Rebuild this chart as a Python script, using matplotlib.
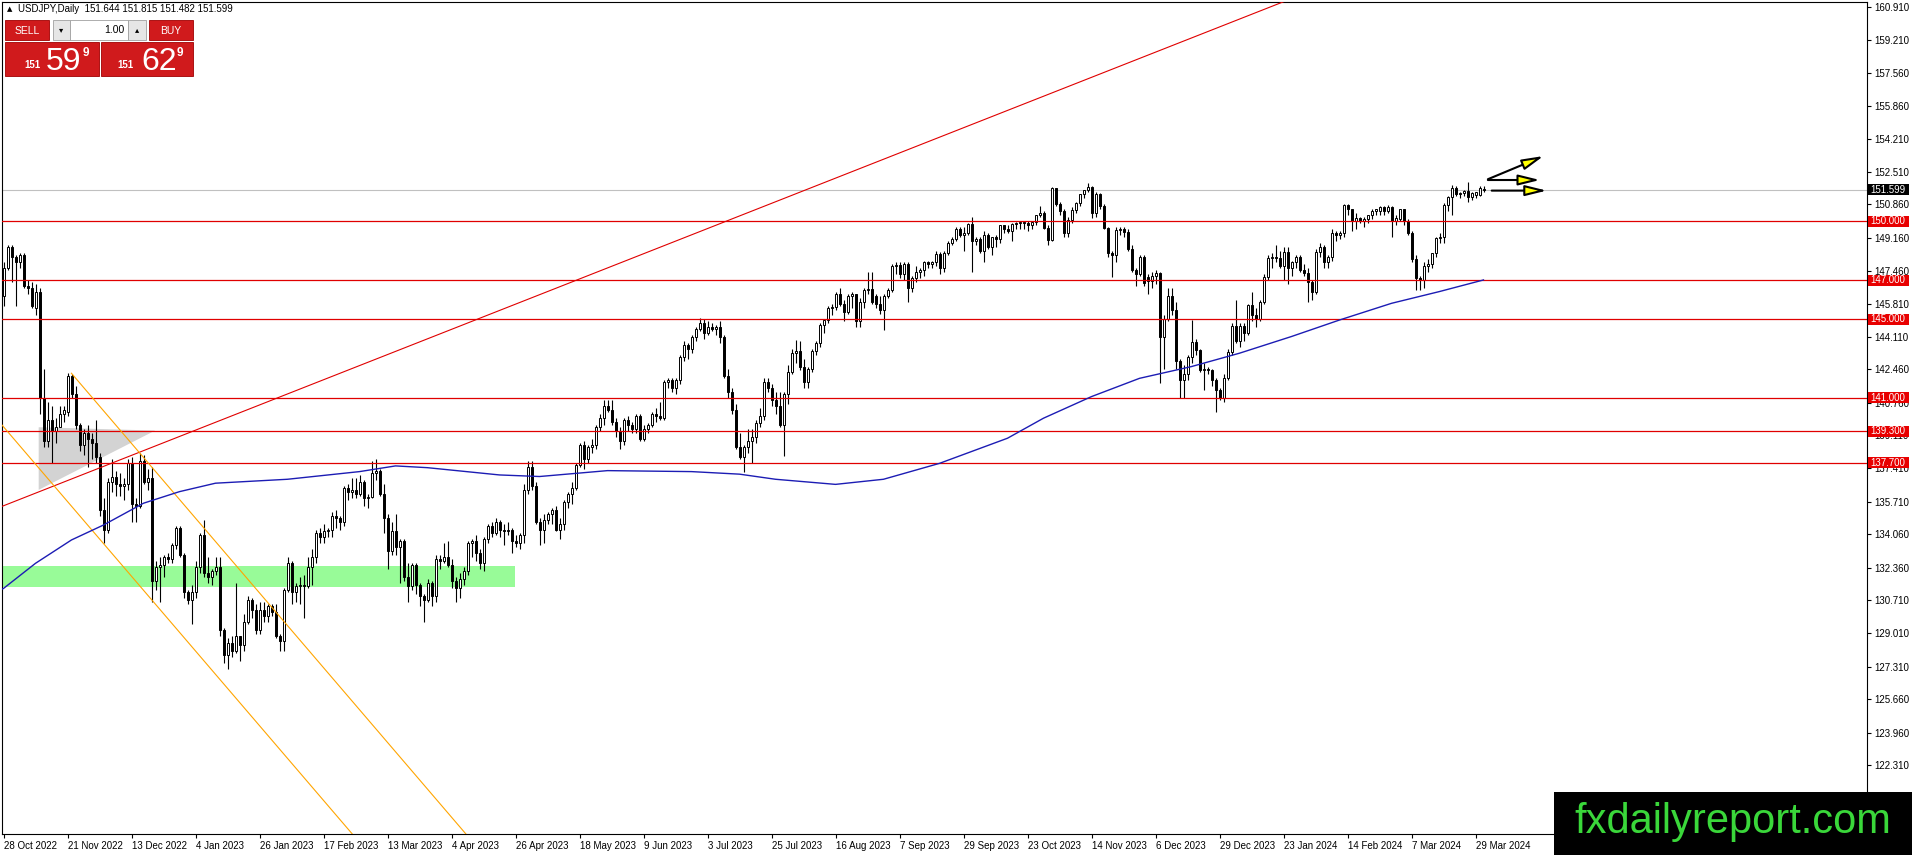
import numpy as np
import matplotlib
matplotlib.use("Agg")
import matplotlib.pyplot as plt
from matplotlib.patches import Rectangle, Polygon

plt.rcParams['font.family'] = ['Liberation Sans', 'DejaVu Sans']

# daily bars, 16 per row (one row per date label), first bar sits left of the first label
first_bar = -1
opens = [146.4,
    146.2,147.6,148.7,148.2,147.9,148.3,146.7,146.6,145.6,146.4,141.0,138.8,139.9,139.3,139.5,140.2,
    140.3,142.1,141.2,139.6,138.6,139.2,138.9,138.7,138.0,135.3,134.3,136.7,137.0,136.6,136.5,136.6,
    137.7,135.6,135.5,137.8,136.7,136.9,131.7,132.4,132.5,132.9,132.8,133.5,134.4,133.0,131.1,130.7,
    131.1,132.4,134.0,132.1,131.9,132.2,132.4,129.2,127.9,128.5,128.1,128.9,128.4,129.6,130.7,130.2,
    129.2,130.2,129.9,130.4,130.1,128.9,128.6,131.2,132.6,131.1,131.4,131.5,131.4,132.4,132.9,134.1,
    133.9,134.2,134.3,135.0,134.9,134.7,136.4,136.2,136.3,136.1,136.7,135.9,135.95,137.2,137.3,136.1,
    134.9,133.2,134.2,133.4,133.7,131.9,131.4,132.5,131.5,130.9,130.7,131.6,130.9,132.8,132.7,132.9,
    132.5,131.7,131.3,131.8,132.2,133.6,133.7,133.1,132.6,133.8,134.5,134.1,134.7,134.3,134.2,134.3,
    133.7,133.6,134.0,136.3,137.5,136.5,134.7,134.3,134.8,135.1,135.3,134.3,134.6,135.7,136.1,136.4,
    137.6,138.6,137.9,138.5,138.6,139.5,140.0,140.6,140.4,139.8,139.3,138.8,139.9,139.6,139.4,140.1,
    138.9,139.4,139.6,140.2,140.1,140.0,141.8,141.9,141.5,141.9,143.1,143.7,143.5,144.1,144.5,144.8,
    144.3,144.6,144.5,144.6,144.1,142.1,141.3,140.4,138.5,138.0,138.5,138.8,139.0,139.7,140.1,141.8,
    141.5,140.9,140.6,139.6,141.2,142.3,143.3,143.4,142.6,141.8,142.5,143.4,143.8,144.7,144.95,145.6,
    145.65,146.3,145.8,145.4,146.2,146.3,144.9,145.9,146.5,146.55,146.2,145.8,145.5,146.2,146.5,147.7,
    147.75,147.3,147.8,146.6,147.1,147.4,147.5,147.9,147.8,147.9,148.35,147.6,148.4,148.9,149.1,149.6,
    149.3,149.4,149.85,149.0,149.1,148.5,149.3,148.7,149.2,149.1,149.8,149.6,149.5,149.85,149.9,149.95,
    149.9,149.8,149.95,150.3,150.4,149.65,149.05,151.68,150.9,150.5,149.4,150.05,150.55,150.95,151.4,151.6,
    151.75,150.4,151.4,150.8,149.65,148.4,148.3,149.55,149.6,149.45,148.6,147.5,147.3,148.2,147.15,146.95,
    147.2,147.35,144.1,145.0,146.2,145.5,142.9,141.9,142.2,143.1,143.87,143.45,142.4,142.5,142.4,141.9,
    141.4,141.0,142.0,143.36,144.64,143.9,144.64,144.3,145.74,145.2,145.0,145.9,147.18,148.11,148.2,148.15,
    147.7,148.45,147.6,147.94,148.2,147.5,147.35,146.9,146.4,148.45,148.7,147.9,148.2,149.4,149.3,149.4,
    150.83,150.6,150.0,150.15,150.0,150.1,150.3,150.5,150.5,150.7,150.5,150.75,150.0,150.1,150.6,150.0,
    149.4,148.1,147.1,147.0,147.7,147.8,148.37,149.13,149.2,150.83,151.25,151.68,151.4,151.45,151.55,151.25,
    151.35,151.35,151.644]
highs = [146.7,
    147.9,148.8,148.8,148.3,148.4,148.4,147.0,146.9,146.8,146.6,142.5,140.8,140.6,140.0,140.6,140.6,
    142.25,142.2,141.6,139.7,139.4,139.6,139.2,139.9,138.2,135.9,136.9,137.9,137.3,137.2,136.9,137.9,
    138.0,135.9,138.2,138.1,137.4,137.5,132.7,132.9,133.0,133.1,133.6,134.5,134.5,133.1,131.2,131.5,
    132.7,134.1,134.8,132.9,132.3,132.9,132.9,129.3,128.8,128.9,131.6,128.9,130.0,130.9,130.8,130.5,
    130.6,130.6,130.5,130.5,130.5,129.0,131.3,132.9,132.7,131.6,131.9,132.0,132.9,133.3,134.3,134.4,
    134.6,134.4,135.2,135.3,135.0,136.5,136.6,136.9,136.9,137.1,136.8,136.1,137.8,137.9,137.4,136.6,
    135.1,134.7,135.1,133.8,133.8,132.6,132.6,132.6,131.6,131.0,131.8,131.7,133.0,133.0,133.6,133.7,
    132.8,131.9,132.1,132.4,133.7,133.8,134.0,133.3,133.9,134.6,134.7,134.9,134.8,134.6,134.7,134.4,
    134.0,134.1,136.6,137.8,137.8,136.7,134.9,135.1,135.2,135.4,135.5,134.9,135.8,136.2,136.7,137.7,
    138.7,138.8,138.6,138.9,139.6,140.2,140.9,140.9,140.9,140.0,139.5,140.0,140.1,139.8,140.2,140.2,
    139.6,139.7,140.3,140.5,140.8,141.9,142.0,142.0,142.0,143.2,143.9,143.8,144.2,144.6,145.07,145.0,
    144.9,144.8,144.7,144.9,144.2,142.5,141.5,140.7,139.2,138.6,139.4,139.4,139.9,140.5,142.0,142.0,
    141.7,141.3,141.3,141.3,142.7,143.5,143.95,143.9,143.0,142.6,143.5,143.9,144.8,145.0,145.7,145.8,
    146.4,146.6,146.0,146.3,146.4,146.3,146.1,146.6,147.4,147.4,146.3,146.2,146.3,146.6,147.8,147.9,
    147.9,147.9,147.9,147.2,147.7,147.6,148.0,148.0,148.0,148.5,148.45,148.5,149.0,149.2,149.7,149.7,
    149.7,149.9,150.2,149.2,149.2,149.5,149.4,149.2,149.3,149.8,149.8,149.8,149.9,149.95,150.0,150.0,
    150.0,150.0,150.3,150.8,150.5,149.8,151.76,151.7,151.0,150.6,150.2,150.7,151.0,151.4,151.6,151.93,
    151.8,151.5,151.45,150.9,149.7,148.5,149.7,149.7,149.7,149.6,148.8,147.6,148.3,148.3,147.3,147.4,
    147.5,147.4,145.2,146.6,146.6,145.9,143.0,142.7,143.2,144.97,144.0,143.5,142.8,142.6,142.5,142.0,
    141.5,142.2,143.5,144.8,146.0,144.8,144.8,145.8,146.4,145.6,146.0,147.3,148.3,148.4,148.8,148.5,
    148.7,148.7,148.0,148.3,148.3,147.8,147.6,147.0,148.6,148.9,148.8,148.3,149.6,149.5,149.5,150.9,
    150.9,150.6,150.4,150.2,150.2,150.3,150.6,150.6,150.8,150.8,150.85,150.8,150.3,150.6,150.6,150.1,
    149.5,148.3,147.2,147.9,148.1,148.4,149.2,149.4,150.95,151.3,151.85,151.8,151.5,151.6,152.0,151.5,
    151.5,151.8,151.815]
lows = [145.1,
    145.7,147.5,146.9,145.7,147.6,146.6,146.3,145.6,145.2,140.2,138.5,138.5,137.7,138.7,139.5,139.8,
    140.1,141.0,139.4,138.3,138.1,137.5,137.9,137.7,135.0,133.6,134.1,136.2,136.0,136.0,135.8,136.3,
    134.7,134.7,135.4,136.6,136.3,130.6,131.2,130.6,131.9,132.6,132.6,133.3,132.9,130.8,130.5,129.5,
    130.8,132.1,131.9,131.6,131.5,132.0,128.9,127.5,127.2,127.8,128.0,127.6,128.1,129.5,129.8,129.0,
    129.0,129.6,129.6,129.9,128.8,128.1,128.1,131.1,130.5,130.6,130.5,129.8,131.3,131.5,132.6,133.6,
    133.6,133.9,133.9,134.4,134.3,134.5,135.8,135.9,135.9,136.0,135.5,135.4,135.9,136.8,136.0,134.1,
    132.3,133.0,133.0,131.6,131.7,130.6,131.2,131.0,130.4,129.6,130.6,130.4,130.6,132.3,132.6,132.4,
    131.3,130.6,130.8,131.5,132.0,132.9,132.7,132.3,132.2,133.6,133.9,134.0,133.9,133.5,134.0,133.1,
    133.4,133.3,133.6,136.1,136.3,134.6,133.5,133.6,134.6,134.6,134.2,133.8,134.3,135.4,135.6,136.3,
    137.5,137.4,137.7,138.2,138.4,139.3,139.6,140.3,139.6,139.0,138.4,138.6,139.3,139.2,139.2,138.8,
    138.8,139.2,139.5,139.8,139.9,139.9,141.5,141.3,141.2,141.7,142.9,143.0,143.3,143.9,144.4,144.0,
    144.2,144.4,144.2,143.8,142.0,141.0,140.2,138.4,137.9,137.25,138.2,137.7,138.7,139.5,139.9,141.3,
    140.6,140.2,139.5,138.05,140.7,142.2,142.8,142.4,141.5,141.5,142.3,143.2,143.6,144.3,144.8,145.2,
    145.5,145.7,144.9,145.3,145.6,144.6,144.6,145.6,146.3,145.8,145.6,145.3,144.45,146.1,146.4,147.3,
    147.1,147.0,145.9,146.4,146.9,147.1,147.2,147.6,147.6,147.7,147.3,147.4,148.3,148.8,149.0,149.2,
    148.5,149.3,147.4,148.8,148.4,147.9,148.6,148.3,148.7,148.9,149.4,149.4,149.0,149.6,149.6,149.6,
    149.5,149.6,149.8,150.2,149.6,148.8,149.0,150.8,150.3,149.2,149.2,149.9,150.4,150.8,151.2,151.5,
    150.15,150.2,150.6,149.6,148.2,147.15,147.9,149.3,149.2,148.5,147.4,146.7,147.2,146.7,146.3,146.6,
    146.8,141.75,142.5,144.9,145.2,142.5,140.98,141.0,141.9,142.8,143.2,142.3,141.4,142.2,141.6,140.3,
    140.9,140.8,141.9,143.2,143.8,143.6,143.9,144.2,144.9,144.6,144.9,145.8,147.0,147.6,147.9,147.6,
    147.0,146.8,147.2,147.6,147.4,147.2,145.9,146.0,146.3,148.2,147.6,147.6,148.0,149.0,149.1,149.2,
    150.3,149.5,149.6,149.9,149.7,149.9,150.1,150.3,150.3,150.3,150.4,149.2,149.8,150.0,149.8,149.3,
    147.9,146.5,146.5,146.6,147.4,147.6,148.2,148.9,148.9,150.5,150.3,151.3,151.2,151.3,151.0,151.1,
    151.2,151.3,151.482]
closes = [146.2,
    147.6,148.7,148.2,147.9,148.3,146.7,146.6,145.7,146.4,141.0,138.8,139.9,139.3,139.5,140.2,140.4,
    142.1,141.2,139.6,138.6,139.2,138.9,138.7,138.0,135.3,134.3,136.7,137.0,136.6,136.5,136.6,137.7,
    135.6,135.5,137.8,136.7,136.9,131.7,132.4,132.5,132.9,132.8,133.5,134.4,133.0,131.1,130.7,131.1,
    132.4,134.0,132.1,131.9,132.2,132.4,129.2,127.9,128.5,128.1,128.9,128.4,129.6,130.7,130.2,129.2,
    130.2,129.9,130.4,130.1,128.9,128.6,131.2,132.6,131.1,131.4,131.5,131.4,132.4,132.9,134.1,133.9,
    134.2,134.3,135.0,134.9,134.7,136.4,136.2,136.3,136.1,136.7,135.9,135.95,137.2,137.3,136.1,134.9,
    133.2,134.2,133.4,133.7,131.9,131.4,132.5,131.5,130.9,130.7,131.6,130.9,132.8,132.7,132.9,132.5,
    131.7,131.3,131.8,132.2,133.6,133.7,133.1,132.6,133.8,134.5,134.1,134.7,134.3,134.2,134.3,133.7,
    133.6,134.0,136.3,137.5,136.5,134.7,134.3,134.8,135.1,135.3,134.3,134.6,135.7,136.1,136.4,137.6,
    138.6,137.9,138.5,138.6,139.5,140.0,140.6,140.4,139.8,139.3,138.8,139.9,139.6,139.4,140.1,138.9,
    139.4,139.6,140.2,140.1,140.0,141.8,141.9,141.5,141.9,143.1,143.7,143.5,144.1,144.5,144.8,144.3,
    144.6,144.5,144.6,144.1,142.1,141.3,140.4,138.5,138.0,138.5,138.8,139.0,139.7,140.1,141.8,141.5,
    140.9,140.6,139.6,141.2,142.3,143.3,143.4,142.6,141.8,142.5,143.4,143.8,144.7,144.95,145.6,145.65,
    146.3,145.8,145.4,146.2,146.3,144.9,145.9,146.5,146.55,145.9,145.8,145.5,146.2,146.5,147.7,147.75,
    147.3,147.8,146.6,147.1,147.4,147.5,147.9,147.8,147.9,148.35,147.6,148.4,148.9,149.1,149.6,149.3,
    149.4,149.85,149.0,149.1,148.5,149.3,148.7,149.2,149.1,149.8,149.6,149.5,149.85,149.9,149.95,149.9,
    149.8,149.95,150.3,150.4,149.65,149.05,151.68,150.9,150.5,149.4,150.05,150.55,150.95,151.4,151.6,151.75,
    150.4,151.4,150.8,149.65,148.4,148.3,149.55,149.6,149.45,148.6,147.5,147.3,148.2,146.85,146.95,147.2,
    147.35,144.1,145.0,146.2,145.5,142.9,141.9,142.2,143.1,143.87,143.45,142.4,142.5,142.4,141.9,141.4,
    141.0,142.0,143.36,144.64,143.9,144.64,144.3,145.74,145.2,145.0,145.9,147.18,148.11,148.2,148.15,147.7,
    148.45,147.6,147.94,148.2,147.5,147.35,146.9,146.4,148.45,148.7,147.9,148.2,149.4,149.3,149.4,150.83,
    150.6,150.0,150.15,150.0,150.1,150.3,150.5,150.6,150.7,150.5,150.75,150.0,150.15,150.6,150.0,149.4,
    148.1,147.1,147.0,147.7,147.8,148.37,149.13,149.2,150.83,151.25,151.68,151.4,151.45,151.55,151.25,151.45,
    151.5,151.68,151.599]

date_labels = ["28 Oct 2022", "21 Nov 2022", "13 Dec 2022", "4 Jan 2023", "26 Jan 2023",
               "17 Feb 2023", "13 Mar 2023", "4 Apr 2023", "26 Apr 2023", "18 May 2023",
               "9 Jun 2023", "3 Jul 2023", "25 Jul 2023", "16 Aug 2023", "7 Sep 2023",
               "29 Sep 2023", "23 Oct 2023", "14 Nov 2023", "6 Dec 2023", "29 Dec 2023",
               "23 Jan 2024", "14 Feb 2024", "7 Mar 2024", "29 Mar 2024"]
bars_per_label = 16

price_ticks = [160.910, 159.210, 157.560, 155.860, 154.210, 152.510, 150.860, 149.160,
               147.460, 145.810, 144.110, 142.460, 140.760, 139.110, 137.410, 135.710,
               134.060, 132.360, 130.710, 129.010, 127.310, 125.660, 123.960, 122.310, 120.610]

levels = [150.0, 147.0, 145.0, 141.0, 139.3, 137.7]
last_price = 151.599

# moving average
ma_bars = [-1, 0, 8, 17, 25, 35, 44, 53, 71, 89, 98, 106, 124, 134, 151, 172, 184, 193,
           208, 220, 234, 251, 260, 272, 284, 297, 309, 322, 334, 347, 359, 370]
ma_values = [131.2, 131.3, 132.58, 133.77, 134.53, 135.64, 136.23, 136.66, 136.86, 137.25,
             137.54, 137.45, 137.08, 137.0, 137.3, 137.25, 137.12, 136.86, 136.6, 136.86,
             137.67, 138.95, 139.97, 141.07, 142.0, 142.6, 143.28, 144.13, 144.97, 145.82,
             146.42, 147.01]

# drawn objects: (bar, price)
red_trend = [(-1, 135.43), (330, 161.98)]
orange_lower = [(-5, 140.72), (95, 116.94)]
orange_upper = [(16.975, 142.26), (120, 117.75)]
gray_triangle = [(8.8, 139.51), (8.8, 136.32), (37.9, 139.34)]
green_zone = (-1, 127.8, 131.35, 132.45)
arrows = [((371.1, 152.14), (385.0, 153.32)),
          ((371.1, 152.10), (384.1, 152.10)),
          ((372.05, 151.56), (385.8, 151.56))]

W, H = 1912, 855
fig = plt.figure(figsize=(W / 100, H / 100), dpi=100)
fig.patch.set_facecolor('white')
ax = fig.add_axes([2 / W, (H - 834) / H, 1865 / W, 832 / H])
ax.set_xlim(-0.375, 465.875)
ax.set_ylim(118.795, 161.165)

o = np.array(opens); h = np.array(highs); l = np.array(lows); c = np.array(closes)
idx = np.arange(len(c)) + first_bar
h = np.maximum(h, np.maximum(o, c))
l = np.minimum(l, np.minimum(o, c))
up = c >= o
lo = np.minimum(o, c)
ht = np.maximum(np.abs(c - o), 0.04)

ax.add_patch(Rectangle((green_zone[0], green_zone[2]), green_zone[1] - green_zone[0],
                       green_zone[3] - green_zone[2], fc='#98fb98', ec='none', zorder=1))
ax.add_patch(Polygon(gray_triangle, closed=True, fc='#d3d3d3', ec='none', zorder=1))

ax.axhline(last_price, color='#c0c0c0', lw=0.8, zorder=2)

ax.vlines(idx, l, h, colors='black', linewidth=0.8, zorder=4)
ax.bar(idx[up], ht[up], bottom=lo[up], width=0.5, color='white', edgecolor='black',
       linewidth=0.7, zorder=5)
ax.bar(idx[~up], ht[~up], bottom=lo[~up], width=0.5, color='black', edgecolor='black',
       linewidth=0.7, zorder=5)

for lv in levels:
    ax.axhline(lv, color='#e00000', lw=0.9, zorder=6)

ax.plot(*zip(*red_trend), color='#e00000', lw=0.8, zorder=6)
ax.plot(*zip(*orange_lower), color='#ffa500', lw=0.8, zorder=6)
ax.plot(*zip(*orange_upper), color='#ffa500', lw=0.8, zorder=6)
ax.plot(ma_bars, ma_values, color='#1c1cb4', lw=1.0, zorder=6)

for start, tip in arrows:
    ax.annotate('', xy=tip, xytext=start, zorder=7,
                arrowprops=dict(arrowstyle='-|>,head_length=1.3,head_width=0.32',
                                fc='#ffff00', ec='black', lw=1.5, shrinkA=0, shrinkB=0,
                                mutation_scale=10))

ax.yaxis.tick_right()
ax.set_yticks(price_ticks)
ax.set_yticklabels([f"{p:.3f}" for p in price_ticks])
ax.tick_params(axis='y', direction='out', length=3, width=0.8, pad=2, labelsize=7)
ax.set_xticks(np.arange(len(date_labels)) * bars_per_label)
ax.set_xticklabels(date_labels, ha='left')
ax.tick_params(axis='x', direction='out', length=3, width=0.8, pad=2, labelsize=7)
for sp in ax.spines.values():
    sp.set_linewidth(0.8)
    sp.set_color('black')

# price tags on the scale
tr = ax.get_yaxis_transform()
tag_x = (1868 - 2) / 1865
tag_w = 41 / 1865
tag_h = 11 / 19.637
for lv, col in [(v, '#e80000') for v in levels] + [(last_price, 'black')]:
    ax.add_patch(Rectangle((tag_x, lv - tag_h / 2), tag_w, tag_h, transform=tr, fc=col,
                           ec='none', clip_on=False, zorder=20))
    ax.text(tag_x + 2 / 1865, lv, f"{lv:.3f}", transform=tr, ha='left', va='center',
            fontsize=7, color='white', clip_on=False, zorder=21)


def px_rect(x, y, w, hh, **kw):
    fig.add_artist(Rectangle((x / W, 1 - (y + hh) / H), w / W, hh / H,
                             transform=fig.transFigure, **kw))


def px_text(x, y, s, **kw):
    fig.text(x / W, 1 - y / H, s, **kw)


# header
px_text(7, 9.5, "\u25b2", fontsize=5, va='center', family=['DejaVu Sans'])
px_text(18, 9.5, "USDJPY,Daily  151.644 151.815 151.482 151.599", fontsize=7, va='center')

# one-click trading panel
red = '#d01a1c'
px_rect(5, 20.5, 44, 20, fc=red, ec='#a00000', lw=0.6)
px_text(27, 31, "SELL", fontsize=7.5, color='white', ha='center', va='center')
px_rect(52.5, 20, 17.5, 20, fc='#e6e6e6', ec='#a0a0a0', lw=0.6)
px_rect(70, 20, 58, 20, fc='white', ec='#a0a0a0', lw=0.6)
px_rect(128, 20, 18.5, 20, fc='#e6e6e6', ec='#a0a0a0', lw=0.6)
px_text(61, 30, "\u25be", fontsize=6, ha='center', va='center', family=['DejaVu Sans'])
px_text(137, 30, "\u25b4", fontsize=6, ha='center', va='center', family=['DejaVu Sans'])
px_text(124, 30, "1.00", fontsize=7.5, ha='right', va='center')
px_rect(149, 20.5, 44, 20, fc=red, ec='#a00000', lw=0.6)
px_text(171, 31, "BUY", fontsize=7.5, color='white', ha='center', va='center')
px_rect(5, 42, 94, 34, fc=red, ec='#a00000', lw=0.6)
px_rect(101, 42, 92, 34, fc=red, ec='#a00000', lw=0.6)
px_text(24, 68, "151", fontsize=7, color='white', va='baseline', weight='bold')
px_text(46, 69.5, "59", fontsize=23, color='white', va='baseline')
px_text(83, 56, "9", fontsize=8.5, color='white', va='baseline', weight='bold')
px_text(117, 68, "151", fontsize=7, color='white', va='baseline', weight='bold')
px_text(141, 69.5, "62", fontsize=23, color='white', va='baseline')
px_text(177, 56, "9", fontsize=8.5, color='white', va='baseline', weight='bold')

# watermark
px_rect(1554, 792, 358, 63, fc='black', ec='none')
px_text(1732.5, 833, "fxdailyreport.com", fontsize=30, color='#3ad73a', ha='center',
        va='baseline')

fig.savefig("out.png", dpi=100)
